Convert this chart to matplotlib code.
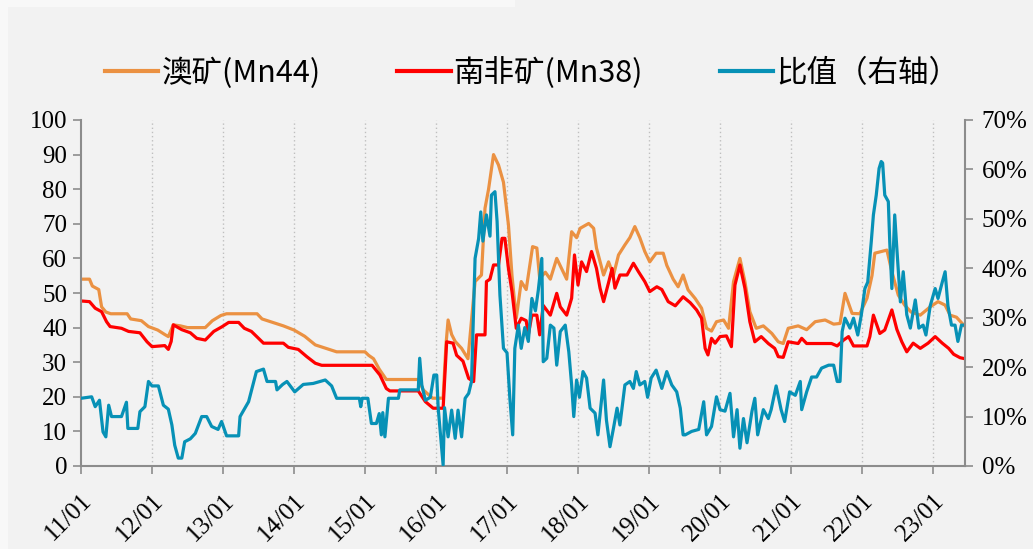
import numpy as np
import matplotlib.pyplot as plt
from matplotlib.ticker import FuncFormatter
from matplotlib.patches import Rectangle

# 澳矿(Mn44)  -- decimal year / price
aus_t = [2011.00, 2011.12, 2011.16, 2011.25, 2011.29, 2011.35, 2011.42, 2011.65, 2011.70, 2011.85,
         2011.95, 2012.08, 2012.18, 2012.23, 2012.30, 2012.40, 2012.50, 2012.75, 2012.85, 2012.97,
         2013.05, 2013.48, 2013.55, 2013.70, 2013.85, 2014.00, 2014.15, 2014.30, 2014.45, 2014.60,
         2015.00, 2015.05, 2015.12, 2015.20, 2015.30, 2015.75, 2015.82, 2015.95, 2016.10, 2016.14,
         2016.17, 2016.22, 2016.27, 2016.36, 2016.45, 2016.55, 2016.64, 2016.69, 2016.74, 2016.81,
         2016.88, 2016.95, 2017.02, 2017.07, 2017.13, 2017.20, 2017.27, 2017.32, 2017.36, 2017.42,
         2017.46, 2017.54, 2017.61, 2017.70, 2017.77, 2017.84, 2017.91, 2017.98, 2018.03, 2018.15,
         2018.22, 2018.26, 2018.36, 2018.43, 2018.50, 2018.57, 2018.66, 2018.73, 2018.80, 2018.87,
         2018.94, 2019.01, 2019.10, 2019.20, 2019.25, 2019.34, 2019.41, 2019.48, 2019.55, 2019.65,
         2019.74, 2019.81, 2019.88, 2019.95, 2020.05, 2020.12, 2020.19, 2020.28, 2020.35, 2020.42,
         2020.51, 2020.61, 2020.73, 2020.82, 2020.89, 2020.96, 2021.10, 2021.22, 2021.34, 2021.48,
         2021.60, 2021.69, 2021.76, 2021.86, 2021.97, 2022.07, 2022.14, 2022.18, 2022.35, 2022.42,
         2022.51, 2022.60, 2022.69, 2022.82, 2022.96, 2023.07, 2023.17, 2023.24, 2023.33, 2023.45]
aus_v = [54, 54, 52, 51, 46, 44.5, 44, 44, 42.5, 42,
         40.3, 39.3, 38, 37.4, 40.8, 40.5, 40, 40, 42, 43.5,
         44, 44, 42.5, 41.5, 40.5, 39.3, 37.5, 35, 34, 33,
         33, 32, 31, 28, 25, 25, 22, 19.6, 19.6, 35,
         42.2, 38, 36, 34, 31, 53.3, 55.2, 74.5, 80, 90,
         87, 82, 69.7, 55, 42.7, 53.3, 51, 58, 63.4, 63,
         54.2, 56, 54, 60, 57, 54, 67.7, 66, 68.7, 70.1,
         68.7, 63, 55.2, 59, 55.2, 61, 63.9, 66, 69.2, 66,
         62, 59, 61.5, 61.5, 58, 54, 51.8, 55.2, 50.9, 48.4,
         45.6, 39.8, 39, 41.7, 42.2, 39.8, 53.3, 60, 53.3, 44.6,
         39.8, 40.5, 38.3, 35.9, 35.4, 39.8, 40.5, 39.4, 41.7, 42.2,
         41, 41.2, 49.9, 44.1, 44, 48.5, 55, 61.5, 62.4, 56.2,
         49.4, 46.5, 44.5, 43.6, 46, 47.5, 46.5, 43.6, 43, 40.3]

# 南非矿(Mn38)
sa_t = [2011.00, 2011.12, 2011.20, 2011.29, 2011.36, 2011.41, 2011.57, 2011.67, 2011.83, 2011.93,
        2012.00, 2012.18, 2012.23, 2012.27, 2012.30, 2012.42, 2012.54, 2012.63, 2012.75, 2012.87,
        2012.99, 2013.08, 2013.22, 2013.30, 2013.40, 2013.57, 2013.85, 2013.92, 2014.06, 2014.18,
        2014.30, 2014.39, 2015.10, 2015.21, 2015.30, 2015.35, 2015.75, 2015.85, 2015.96, 2016.10,
        2016.15, 2016.24, 2016.29, 2016.38, 2016.46, 2016.53, 2016.57, 2016.69, 2016.71, 2016.76,
        2016.81, 2016.88, 2016.93, 2016.97, 2017.02, 2017.07, 2017.13, 2017.20, 2017.27, 2017.30,
        2017.35, 2017.42, 2017.46, 2017.51, 2017.61, 2017.70, 2017.75, 2017.84, 2017.91, 2017.95,
        2018.00, 2018.05, 2018.12, 2018.19, 2018.26, 2018.31, 2018.36, 2018.43, 2018.48, 2018.52,
        2018.59, 2018.69, 2018.78, 2018.85, 2018.94, 2019.01, 2019.11, 2019.18, 2019.27, 2019.37,
        2019.48, 2019.58, 2019.67, 2019.74, 2019.79, 2019.83, 2019.88, 2019.93, 2020.00, 2020.09,
        2020.16, 2020.21, 2020.28, 2020.35, 2020.42, 2020.49, 2020.58, 2020.68, 2020.77, 2020.82,
        2020.89, 2020.96, 2021.10, 2021.15, 2021.22, 2021.57, 2021.65, 2021.74, 2021.81, 2021.88,
        2022.07, 2022.11, 2022.16, 2022.25, 2022.32, 2022.42, 2022.49, 2022.56, 2022.63, 2022.72,
        2022.82, 2022.93, 2023.03, 2023.13, 2023.22, 2023.29, 2023.38, 2023.45]
sa_v = [47.7, 47.5, 45.6, 44.6, 41.7, 40.3, 39.8, 38.9, 38.5, 35.9,
        34.5, 34.8, 33.7, 36, 40.8, 39.4, 38.5, 36.9, 36.4, 38.9,
        40.3, 41.5, 41.5, 39.8, 38.9, 35.5, 35.5, 34.3, 33.7, 31.6,
        29.7, 29.1, 29.1, 26.3, 22.4, 21.7, 21.7, 18.6, 16.7, 16.7,
        35.9, 35.5, 32, 30.3, 25.3, 24.4, 37.9, 37.9, 53.3, 54,
        58.1, 58.1, 65.8, 65.8, 57.1, 50.4, 39.8, 42.7, 42, 37.9,
        43.6, 43.6, 37.9, 46.4, 43.6, 49.9, 46, 43.6, 48.5, 61,
        52.3, 59, 56.2, 62, 57.1, 51.4, 47.5, 53, 57.1, 51.4,
        55.2, 55.2, 58.6, 56.2, 53.3, 50.4, 51.8, 51, 47.5, 46.3,
        48.9, 47.2, 45.1, 42.7, 34, 32.1, 36.9, 35.5, 37.4, 37.6,
        34.5, 52.3, 58.1, 51.4, 41.7, 35.9, 37.4, 35.4, 34, 31.6,
        31.4, 35.9, 35.4, 36.9, 35.4, 35.4, 34.7, 36.4, 37.4, 34.7,
        34.7, 37.4, 43.6, 38.3, 39.3, 45.1, 39.5, 35.9, 33, 35.5,
        34, 35.5, 37.4, 35.5, 34, 32.3, 31.3, 31]

# 比值 (%)
ratio_t = [2011.00, 2011.15, 2011.20, 2011.26, 2011.31, 2011.35, 2011.39, 2011.43, 2011.57, 2011.64,
           2011.66, 2011.80, 2011.83, 2011.90, 2011.95, 2012.00, 2012.09, 2012.16, 2012.23, 2012.28,
           2012.32, 2012.37, 2012.42, 2012.46, 2012.54, 2012.61, 2012.70, 2012.77, 2012.84, 2012.93,
           2012.98, 2013.05, 2013.22, 2013.24, 2013.36, 2013.47, 2013.57, 2013.62, 2013.74, 2013.76,
           2013.84, 2013.90, 2014.01, 2014.13, 2014.27, 2014.44, 2014.53, 2014.60, 2014.92, 2014.94,
           2014.96, 2015.04, 2015.09, 2015.16, 2015.20, 2015.23, 2015.25, 2015.28, 2015.33, 2015.47,
           2015.49, 2015.75, 2015.77, 2015.80, 2015.85, 2015.92, 2015.97, 2016.01, 2016.03, 2016.10,
           2016.12, 2016.17, 2016.22, 2016.27, 2016.31, 2016.36, 2016.41, 2016.46, 2016.50, 2016.55,
           2016.60, 2016.63, 2016.66, 2016.71, 2016.76, 2016.78, 2016.83, 2016.86, 2016.90, 2016.95,
           2017.00, 2017.04, 2017.08, 2017.11, 2017.16, 2017.20, 2017.25, 2017.30, 2017.35, 2017.40,
           2017.44, 2017.49, 2017.51, 2017.56, 2017.61, 2017.66, 2017.70, 2017.75, 2017.82, 2017.87,
           2017.91, 2017.94, 2017.98, 2018.02, 2018.07, 2018.12, 2018.17, 2018.24, 2018.28, 2018.33,
           2018.36, 2018.40, 2018.45, 2018.50, 2018.55, 2018.59, 2018.66, 2018.73, 2018.78, 2018.82,
           2018.87, 2018.94, 2018.98, 2019.03, 2019.10, 2019.18, 2019.25, 2019.32, 2019.39, 2019.44,
           2019.48, 2019.51, 2019.60, 2019.70, 2019.77, 2019.81, 2019.88, 2019.95, 2020.00, 2020.07,
           2020.14, 2020.19, 2020.24, 2020.28, 2020.33, 2020.38, 2020.45, 2020.49, 2020.53, 2020.61,
           2020.68, 2020.72, 2020.79, 2020.86, 2020.91, 2020.98, 2021.06, 2021.13, 2021.15, 2021.22,
           2021.29, 2021.36, 2021.43, 2021.53, 2021.60, 2021.65, 2021.69, 2021.72, 2021.76, 2021.83,
           2021.88, 2021.94, 2021.99, 2022.04, 2022.08, 2022.13, 2022.16, 2022.20, 2022.24, 2022.27,
           2022.29, 2022.32, 2022.37, 2022.39, 2022.42, 2022.46, 2022.49, 2022.54, 2022.58, 2022.63,
           2022.68, 2022.75, 2022.80, 2022.86, 2022.90, 2022.96, 2023.03, 2023.07, 2023.13, 2023.17,
           2023.21, 2023.26, 2023.31, 2023.35, 2023.40, 2023.45]
ratio_v = [13.7, 14, 12, 13.3, 6.9, 5.9, 12.3, 10, 10, 12.9,
           7.6, 7.6, 11, 12, 17.1, 16.2, 16.2, 12.3, 11.5, 8.3,
           4.2, 1.6, 1.6, 4.9, 5.5, 6.6, 10, 10, 8, 7.4,
           9, 6.1, 6.1, 10, 13, 19.1, 19.6, 17.1, 17.1, 15.4,
           16.5, 17.1, 15, 16.5, 16.7, 17.4, 16.2, 13.7, 13.7, 12,
           13.7, 13.7, 8.6, 8.6, 10.6, 6.3, 10.8, 5.9, 13.7, 13.7,
           15.4, 15.4, 21.8, 16.4, 13.3, 13.9, 18.4, 18.4, 11.8, 0.2,
           11.8, 5.9, 11.3, 5.6, 11.3, 5.9, 13.7, 14.7, 17.1, 42,
           46, 51.4, 45.5, 50.8, 46.5, 54.8, 55.5, 49.5, 34.6, 23.8,
           22.9, 13.7, 6.3, 23.8, 28.5, 23.8, 28, 25.2, 33.9, 31.4,
           35.5, 42, 21.1, 21.8, 28.5, 27.9, 20.4, 27.2, 28.5, 23.1,
           16.4, 10, 17.4, 13.9, 19.1, 17.8, 11.7, 10.7, 6.3, 13.3,
           17.4, 9.3, 3.9, 7.7, 11.7, 8.3, 16.4, 17.1, 15.7, 19.1,
           16.4, 17.1, 13.9, 17.8, 19.4, 15.7, 19.1, 16.4, 15, 11.7,
           6.3, 6.3, 7, 7.4, 13, 6.3, 8, 14, 11.4, 11.1,
           14.7, 5.9, 11.4, 3.6, 9.6, 4.7, 11.1, 13.7, 6.3, 11.4,
           9.6, 11.4, 16.2, 11.4, 9, 15, 14.3, 17.1, 11.4, 15,
           18, 18, 19.8, 20.4, 20.4, 17.1, 17.1, 27.2, 29.9, 27.9,
           29.9, 26.5, 30.6, 35.9, 37.2, 45.4, 50.8, 54.8, 60.2, 61.6,
           61.3, 54.8, 53.5, 45.4, 35.9, 50.8, 44, 33.2, 39.3, 30.6,
           27.9, 33.6, 27.9, 28.5, 26.5, 32.4, 35.9, 33.9, 37.2, 39.3,
           32.4, 28.5, 28.5, 25.2, 28.5, 28.5]

years = list(range(2011, 2024))
year_labels = ["%02d/01" % (y % 100) for y in years]

c_aus = "#EB9142"
c_sa = "#FF0000"
c_ratio = "#0791B6"
spine_c = "#8C8C8C"
serif = "Liberation Serif"

fig = plt.figure(figsize=(10.33, 5.49), dpi=100, facecolor="#F2F2F2")
# light border strips of the screenshot
fig.patches.append(Rectangle((0, 0), 8 / 1033, 1, transform=fig.transFigure,
                             facecolor="#F8F8F8", edgecolor="none", zorder=-1))
fig.patches.append(Rectangle((0, 1 - 7 / 549), 515 / 1033, 7 / 549, transform=fig.transFigure,
                             facecolor="#F8F8F8", edgecolor="none", zorder=-1))

ax = fig.add_axes([81 / 1033, 1 - 466 / 549, (965 - 81) / 1033, (466 - 120) / 549])
ax.set_facecolor("#F2F2F2")
ax2 = ax.twinx()

l1, = ax.plot(aus_t, aus_v, color=c_aus, lw=2.3, label="澳矿(Mn44)")
l2, = ax.plot(sa_t, sa_v, color=c_sa, lw=2.3, label="南非矿(Mn38)")
l3, = ax2.plot(ratio_t, ratio_v, color=c_ratio, lw=2.3, label="比值（右轴）")

ax.set_xlim(2011, 2023.45)
ax.set_ylim(0, 100)
ax2.set_ylim(0, 70)
ax.set_yticks(range(0, 101, 10))
ax2.set_yticks(range(0, 71, 10))
ax2.yaxis.set_major_formatter(FuncFormatter(lambda v, p: "%d%%" % v))
ax.set_xticks(years)
ax.set_xticklabels(year_labels, rotation=45, ha="right", va="top", rotation_mode="anchor")

for y in years[1:]:
    ax.axvline(y, color="#BFBFBF", lw=1, ls=(0, (1, 2)), zorder=0)

for a in (ax, ax2):
    a.spines["top"].set_visible(False)
    for s in ("left", "right", "bottom"):
        a.spines[s].set_color(spine_c)
        a.spines[s].set_linewidth(1.5)
    a.tick_params(colors=spine_c, width=1.2, length=6, direction="out")
ax2.spines["left"].set_visible(False)
ax2.spines["bottom"].set_visible(False)
ax.spines["right"].set_visible(False)

for lab in ax.get_yticklabels() + ax2.get_yticklabels() + ax.get_xticklabels():
    lab.set_fontfamily(serif)
    lab.set_fontsize(18)
    lab.set_color("black")
ax.tick_params(axis="y", pad=4)
ax2.tick_params(axis="y", pad=6)
ax.tick_params(axis="x", pad=11)

leg = fig.legend(handles=[l1, l2, l3], loc="center", bbox_to_anchor=(0.515, 1 - 73 / 549),
                 ncol=3, frameon=False, handlelength=1.75, handletextpad=0.1,
                 columnspacing=2.5,
                 prop={"family": ["Noto Sans CJK SC", "DejaVu Sans"], "size": 22})
for h in leg.get_lines():
    h.set_linewidth(3)

fig.savefig("out.png", dpi=100, facecolor=fig.get_facecolor())
